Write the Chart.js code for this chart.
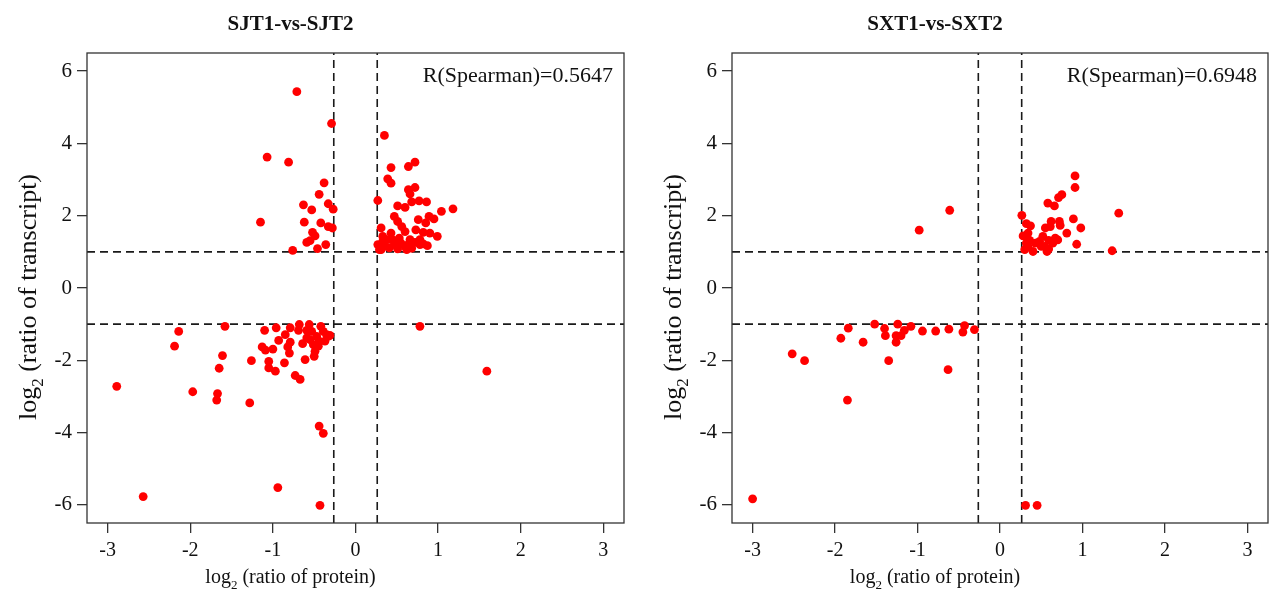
<!DOCTYPE html>
<html>
<head>
<meta charset="utf-8">
<script src="https://cdn.jsdelivr.net/npm/chart.js@4"></script>
<style>
body { margin: 0; background: #fff; overflow: hidden; }
canvas { position: absolute; top: 0; }
#esquerda { left: 0; }
#direita { left: 640px; }
</style>
</head>
<body>
<canvas id="esquerda" width="640" height="594"></canvas>
<canvas id="direita" width="629" height="594"></canvas>
<script>
// Dados
const xTicks = [-3, -2, -1, 0, 1, 2, 3];
const yTicks = [-6, -4, -2, 0, 2, 4, 6];
const xCorte = [-0.263, 0.263];
const yCorte = [-1, 1];
const titulos = ['SJT1-vs-SJT2', 'SXT1-vs-SXT2'];
const spearman = ['0.5647', '0.6948'];

const sjtX = [-0.71, -0.29, -1.07, -0.81, -0.38, -0.44, -0.63, -0.53, -0.33, -0.27, -1.15, -0.62, -0.42, -0.33, -0.28, -0.52, -0.49, -0.55, -0.59, -0.46, -0.36, -0.76,
  0.35, 0.43, 0.64, 0.72, 0.39, 0.43, 0.27, 0.64, 0.72, 0.66, 0.68, 0.77, 0.86, 0.51, 0.60, 0.47, 0.51, 0.31, 0.56, 0.60, 0.43, 0.33, 0.76, 0.73, 0.85, 0.89, 0.95, 1.04, 1.18, 0.99, 0.90, 0.82, 0.87, 0.27, 0.29, 0.35, 0.41, 0.47, 0.51, 0.55, 0.60, 0.64, 0.68, 0.72, 0.78, 0.33, 0.39, 0.45, 0.53, 0.66, 0.78, 0.82, 0.31, 0.62,
  -2.14, -2.19, -1.58, -2.89, -2.57, -1.97, -1.67, -1.68, -1.61, -1.65, -1.28, -1.26, -1.10, -1.13, -1.09, -1.00, -1.05, -1.05, -0.97, -0.86, -0.96, -0.93, -0.85, -0.79, -0.79, -0.82, -0.80, -0.73, -0.67, -0.68, -0.69, -0.64, -0.61, -0.56, -0.59, -0.53, -0.59, -0.55, -0.51, -0.50, -0.49, -0.45, -0.42, -0.39, -0.35, -0.37, -0.44, -0.47, -0.33, -0.31, -0.44, -0.39, -0.94, -0.43, 0.78, 1.59];
const sjtY = [5.43, 4.55, 3.62, 3.48, 2.91, 2.59, 2.30, 2.16, 2.33, 2.18, 1.82, 1.82, 1.80, 1.70, 1.66, 1.54, 1.44, 1.31, 1.26, 1.09, 1.20, 1.04,
  4.22, 3.33, 3.36, 3.48, 3.02, 2.90, 2.42, 2.72, 2.78, 2.60, 2.38, 2.41, 2.38, 2.27, 2.23, 1.98, 1.84, 1.66, 1.70, 1.56, 1.52, 1.43, 1.89, 1.61, 1.80, 1.98, 1.91, 2.12, 2.19, 1.43, 1.52, 1.54, 1.17, 1.20, 1.06, 1.15, 1.11, 1.20, 1.08, 1.24, 1.15, 1.21, 1.10, 1.26, 1.20, 1.29, 1.34, 1.33, 1.38, 1.34, 1.34, 1.22, 1.06, 1.06,
  -1.20, -1.61, -1.06, -2.72, -5.77, -2.87, -2.92, -3.10, -1.87, -2.22, -3.18, -2.01, -1.17, -1.63, -1.72, -1.69, -2.03, -2.21, -2.30, -2.07, -1.10, -1.45, -1.29, -1.10, -1.50, -1.63, -1.80, -2.42, -2.53, -1.01, -1.17, -1.54, -1.98, -1.01, -1.17, -1.20, -1.38, -1.43, -1.57, -1.89, -1.75, -1.61, -1.06, -1.20, -1.29, -1.47, -1.47, -1.34, -1.34, -1.31, -3.82, -4.02, -5.52, -6.01, -1.06, -2.30];

const sxtX = [-0.61, -0.98, 0.265, 0.32, 0.37, 0.28, 0.34, 0.36, 0.32, 0.30, 0.40, 0.48, 0.52, 0.54, 0.57, 0.55, 0.61, 0.62, 0.58, 0.66, 0.71, 0.75, 0.72, 0.73, 0.81, 0.89, 0.98, 0.91, 0.91, 0.93, 0.70, 0.67, 0.64, 0.59, 0.50, 0.59, 1.36, 1.44, 0.34, 0.43,
  -3.00, -2.52, -2.37, -1.85, -1.93, -1.84, -1.66, -1.52, -1.40, -1.39, -1.35, -1.24, -1.26, -1.26, -1.20, -1.16, -1.08, -0.94, -0.78, -0.62, -0.63, -0.43, -0.45, -0.31, 0.31, 0.45];
const sxtY = [2.15, 1.60, 2.01, 1.78, 1.72, 1.44, 1.52, 1.32, 1.24, 1.06, 1.01, 1.29, 1.43, 1.15, 1.01, 1.66, 1.70, 1.84, 2.35, 2.27, 2.50, 2.58, 1.84, 1.73, 1.52, 1.91, 1.66, 3.10, 2.78, 1.21, 1.33, 1.38, 1.24, 1.32, 1.15, 1.08, 1.03, 2.07, 1.15, 1.24,
  -5.83, -1.82, -2.01, -3.10, -1.39, -1.11, -1.50, -1.00, -1.12, -1.32, -2.01, -1.00, -1.32, -1.50, -1.32, -1.17, -1.06, -1.19, -1.19, -1.14, -2.26, -1.04, -1.22, -1.15, -6.01, -6.01];

const xMin = -3.25, xMax = 3.25, yMin = -6.5, yMax = 6.5;
const fonte = "'Liberation Serif', 'Times New Roman', serif";

function pontos(xs, ys) {
    return xs.map((x, i) => ({ x: x, y: ys[i] }));
}

// linhas tracejadas dos cortes
function linhas() {
    const lista = [];
    xCorte.forEach(v => lista.push([{ x: v, y: yMin }, { x: v, y: yMax }]));
    yCorte.forEach(v => lista.push([{ x: xMin, y: v }, { x: xMax, y: v }]));
    return lista.map(d => ({
        data: d,
        showLine: true,
        borderColor: '#1a1a1a',
        borderWidth: 1.6,
        borderDash: [8, 5],
        pointRadius: 0,
        order: 2
    }));
}

function escreveLog2(ctx, resto, cx, base, tam) {
    const sub = Math.round(tam * 0.64);
    ctx.font = tam + 'px ' + fonte;
    const w1 = ctx.measureText('log').width;
    const w3 = ctx.measureText(' ' + resto).width;
    ctx.font = sub + 'px ' + fonte;
    const w2 = ctx.measureText('2').width;
    let x = cx - (w1 + w2 + w3) / 2;
    ctx.textAlign = 'left';
    ctx.font = tam + 'px ' + fonte;
    ctx.fillText('log', x, base);
    x += w1;
    ctx.font = sub + 'px ' + fonte;
    ctx.fillText('2', x, base + tam * 0.28);
    x += w2;
    ctx.font = tam + 'px ' + fonte;
    ctx.fillText(' ' + resto, x, base);
}

const textos = {
    id: 'textos',
    afterDraw(chart, args, opts) {
        const ctx = chart.ctx;
        const a = chart.chartArea;
        ctx.save();
        ctx.strokeStyle = '#333';
        ctx.lineWidth = 1.3;
        ctx.strokeRect(a.left, a.top, a.right - a.left, a.bottom - a.top);

        const cx = (a.left + a.right) / 2 - 65;
        ctx.fillStyle = '#111';
        ctx.textBaseline = 'alphabetic';
        ctx.textAlign = 'center';
        ctx.font = 'bold 21px ' + fonte;
        ctx.fillText(opts.titulo, cx, 30);

        ctx.textAlign = 'right';
        ctx.font = '22px ' + fonte;
        ctx.fillText('R(Spearman)=' + opts.r, a.right - 11, a.top + 29);

        escreveLog2(ctx, '(ratio of protein)', cx, 583, 20);

        ctx.translate(a.left - 59, (a.top + a.bottom) / 2 + 9);
        ctx.rotate(-Math.PI / 2);
        escreveLog2(ctx, '(ratio of transcript)', 0, 8, 26);
        ctx.restore();
    }
};

function criaGrafico(id, xs, ys, i, larguraY, folgaDireita) {
    return new Chart(document.getElementById(id), {
        type: 'scatter',
        data: {
            datasets: [{
                data: pontos(xs, ys),
                backgroundColor: 'rgb(255,0,0)',
                borderWidth: 0,
                pointRadius: 4.4,
                order: 1
            }].concat(linhas())
        },
        options: {
            responsive: false,
            animation: false,
            devicePixelRatio: 1,
            layout: { autoPadding: false, padding: { top: 53, left: 0, right: folgaDireita, bottom: 0 } },
            plugins: {
                legend: { display: false },
                tooltip: { enabled: false },
                textos: { titulo: titulos[i], r: spearman[i] }
            },
            scales: {
                x: {
                    type: 'linear',
                    min: xMin,
                    max: xMax,
                    afterBuildTicks: s => { s.ticks = xTicks.map(v => ({ value: v })); },
                    afterFit: s => { s.height = 71; s.paddingLeft = 0; s.paddingRight = 0; },
                    border: { display: false },
                    grid: { drawOnChartArea: false, drawTicks: true, tickLength: 10, color: '#333', lineWidth: 1.3 },
                    ticks: { font: { family: fonte, size: 20 }, color: '#111', padding: 6, maxRotation: 0 }
                },
                y: {
                    type: 'linear',
                    min: yMin,
                    max: yMax,
                    afterBuildTicks: s => { s.ticks = yTicks.map(v => ({ value: v })); },
                    afterFit: s => { s.width = larguraY; },
                    border: { display: false },
                    grid: { drawOnChartArea: false, drawTicks: true, tickLength: 10, color: '#333', lineWidth: 1.3 },
                    ticks: { font: { family: fonte, size: 21 }, color: '#111', padding: 5 }
                }
            }
        },
        plugins: [textos]
    });
}

criaGrafico('esquerda', sjtX, sjtY, 0, 87, 16);
criaGrafico('direita', sxtX, sxtY, 1, 92, 1);
</script>
</body>
</html>
